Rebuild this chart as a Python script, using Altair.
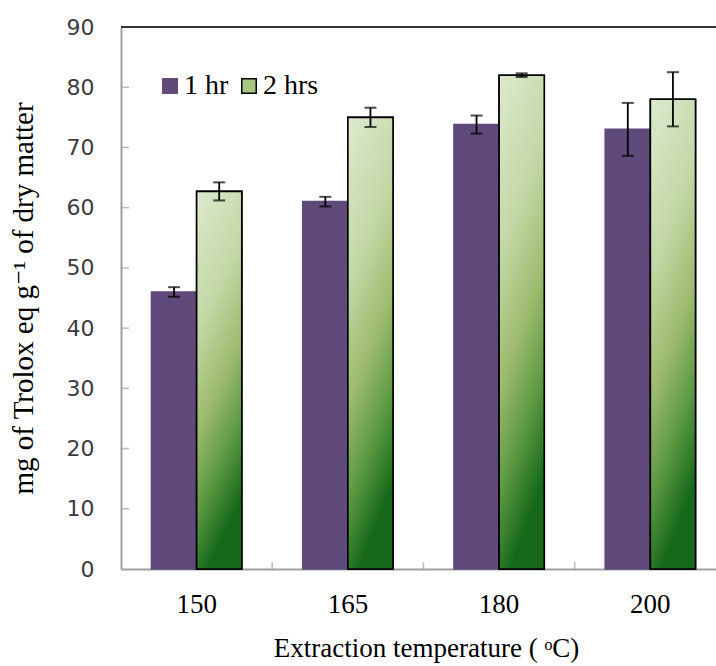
import altair as alt
import pandas as pd

# Antioxidant capacity by extraction temperature and extraction time
temperatures = ["150", "165", "180", "200"]
series_names = ["1 hr", "2 hrs"]
mean_1hr = [46.0, 61.0, 73.8, 73.0]
err_1hr = [0.8, 0.8, 1.5, 4.4]
mean_2hr = [62.7, 75.0, 82.0, 78.0]
err_2hr = [1.5, 1.6, 0.3, 4.5]

y_tick_values = [10, 20, 30, 40, 50, 60, 70, 80]
category_breaks = [1, 2, 3]

rows = []
for t, m1, e1, m2, e2 in zip(temperatures, mean_1hr, err_1hr, mean_2hr, err_2hr):
    rows.append({"temp": t, "series": "1 hr", "value": m1, "lo": m1 - e1, "hi": m1 + e1})
    rows.append({"temp": t, "series": "2 hrs", "value": m2, "lo": m2 - e2, "hi": m2 + e2})
df = pd.DataFrame(rows)

W = 595          # visible plot width
H = 542          # plot height
BAND_RANGE = 605  # category axis runs slightly past the right edge

PURPLE = "#5f4a7b"
AXIS_GRAY = "#a0a0a0"
SERIF = "Liberation Serif, DejaVu Serif, serif"

green_fill = alt.LinearGradient(
    gradient="linear",
    stops=[
        alt.GradientStop(offset=0, color="#dde9cf"),
        alt.GradientStop(offset=0.35, color="#c3d8a6"),
        alt.GradientStop(offset=0.6, color="#9dbb6e"),
        alt.GradientStop(offset=0.8, color="#5e9a43"),
        alt.GradientStop(offset=1, color="#16691a"),
    ],
    x1=0, y1=0, x2=0.25, y2=1,
)

x_axis = alt.Axis(
    title="Extraction temperature ( ᵒC)",
    titleFont=SERIF, titleFontSize=27, titleFontWeight="normal", titleColor="black",
    titleX=305, titleY=87, titleBaseline="alphabetic",
    labelFont=SERIF, labelFontSize=27, labelColor="black", labelAngle=0, labelPadding=22,
    ticks=False, domainColor=AXIS_GRAY, domainWidth=2,
)
x_enc = alt.X(
    "temp:N",
    sort=temperatures,
    scale=alt.Scale(range=[0, BAND_RANGE], paddingInner=0.403, paddingOuter=0.2016),
    axis=x_axis,
)
xoff_enc = alt.XOffset(
    "series:N", sort=series_names,
    scale=alt.Scale(domain=series_names, paddingInner=0, paddingOuter=0),
)
y_scale = alt.Scale(domain=[0, 90], nice=False)
y_axis = alt.Axis(
    title="mg of Trolox eq g⁻¹ of dry matter",
    titleFont=SERIF, titleFontSize=29, titleFontWeight="normal", titleColor="black",
    titleX=-89, titleY=H / 2, titleBaseline="alphabetic",
    labelFont="DejaVu Sans", labelFontSize=22, labelColor="#3c3c3c", labelPadding=27,
    values=[0, 10, 20, 30, 40, 50, 60, 70, 80, 90],
    ticks=False, grid=False, domainColor=AXIS_GRAY, domainWidth=2,
)


def y_of(field):
    return alt.Y(field, scale=y_scale, axis=y_axis, stack=False)


legend = alt.Legend(
    title=None, orient="none", legendX=35, legendY=45, direction="horizontal",
    symbolType="square", symbolSize=210, symbolStrokeWidth=1.5,
    labelFont=SERIF, labelFontSize=28, labelColor="black", labelOffset=0,
    columnPadding=6,
)

bars = alt.Chart(df).mark_bar(strokeWidth=1.6).encode(
    x=x_enc,
    xOffset=xoff_enc,
    y=y_of("value:Q"),
    fill=alt.Fill("series:N", scale=alt.Scale(domain=series_names, range=[PURPLE, "#a9c584"]), legend=legend),
    stroke=alt.Stroke("series:N", scale=alt.Scale(domain=series_names, range=[PURPLE, "black"]), legend=legend),
)

green_bars = alt.Chart(df).transform_filter(
    alt.datum.series == "2 hrs"
).mark_bar(fill=green_fill, stroke="black", strokeWidth=1.6).encode(
    x=x_enc, xOffset=xoff_enc, y=y_of("value:Q"),
)

err_lines = alt.Chart(df).mark_rule(color="black", strokeWidth=1.8).encode(
    x=x_enc, xOffset=xoff_enc, y=y_of("lo:Q"), y2="hi:Q",
)
cap_lo = alt.Chart(df).mark_tick(color="black", thickness=2, size=12).encode(
    x=x_enc, xOffset=xoff_enc, y=y_of("lo:Q"),
)
cap_hi = alt.Chart(df).mark_tick(color="black", thickness=2, size=12).encode(
    x=x_enc, xOffset=xoff_enc, y=y_of("hi:Q"),
)

# inward tick marks on the value axis
y_ticks = alt.Chart(pd.DataFrame({"v": y_tick_values})).mark_tick(
    color=AXIS_GRAY, thickness=1.5, size=8
).encode(y=y_of("v:Q"), x=alt.value(4))

top_line = alt.Chart(pd.DataFrame({"k": [0]})).mark_rule(color="#333333", strokeWidth=2).encode(
    x=alt.value(0), x2=alt.value(W), y=alt.value(0),
)

main = alt.layer(bars, green_bars, err_lines, cap_lo, cap_hi, y_ticks, top_line)

# inward tick marks between temperature groups
x_ticks = alt.Chart(pd.DataFrame({"b": category_breaks})).mark_tick(
    color=AXIS_GRAY, thickness=1.5, size=7, orient="vertical"
).encode(
    x=alt.X("b:Q", scale=alt.Scale(domain=[0, len(temperatures)], range=[0, BAND_RANGE]), axis=None),
    y=alt.value(H - 3.5),
)

chart = alt.layer(main, x_ticks).resolve_scale(
    x="independent"
).properties(
    width=W, height=H,
    padding={"left": 121, "top": 27, "right": 0, "bottom": 97},
    autosize=alt.AutoSizeParams(type="none"),
    background="white",
).configure_view(stroke="transparent")

chart.save("out.html", embed_options={"renderer": "svg", "actions": False})
